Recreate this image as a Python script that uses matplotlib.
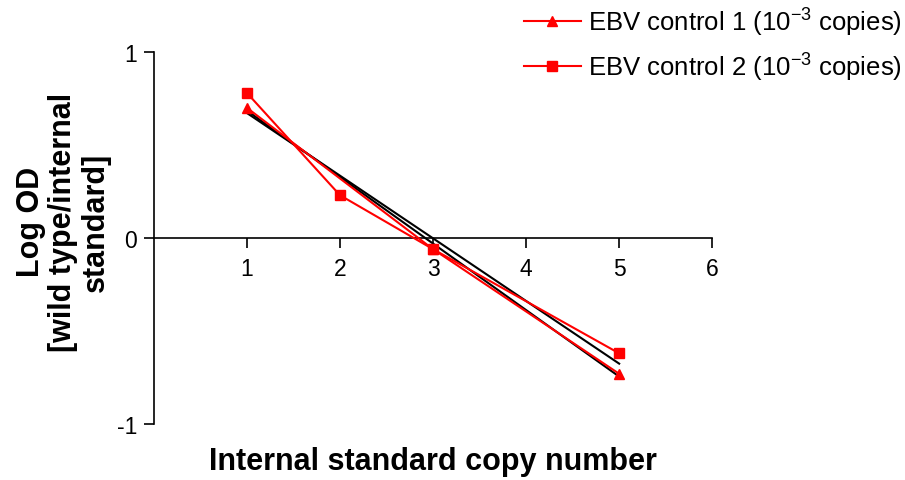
import numpy as np
import matplotlib
matplotlib.use('Agg')
from matplotlib import pyplot as plt

plt.rcParams['font.family'] = ['Liberation Sans', 'DejaVu Sans']
plt.rcParams['mathtext.fontset'] = 'custom'
plt.rcParams['mathtext.rm'] = 'Liberation Sans'
plt.rcParams['mathtext.it'] = 'Liberation Sans'
plt.rcParams['axes.unicode_minus'] = False

# 数据
x1 = [1, 3, 5]
y1 = [0.70, -0.06, -0.73]
x2 = [1, 2, 3, 5]
y2 = [0.78, 0.23, -0.06, -0.62]
labels = ['EBV control 1 (10$^{-3}$ copies)', 'EBV control 2 (10$^{-3}$ copies)']
xticks = [1, 2, 3, 4, 5, 6]
yticks = [-1, 0, 1]

fig = plt.figure(figsize=(9.05, 4.81), dpi=100)
ax = fig.add_axes([0.170, 0.1164, 0.617, 0.7734])

# 回归线 (黑色)
for xs, ys in [(x1, y1), (x2, y2)]:
    k, b = np.polyfit(xs, ys, 1)
    xx = np.array([1, 5])
    ax.plot(xx, k * xx + b, color='black', lw=1.5, zorder=2)

l1, = ax.plot(x1, y1, color='red', marker='^', ms=7, lw=1.5, zorder=3)
l2, = ax.plot(x2, y2, color='red', marker='s', ms=7, lw=1.5, zorder=3)

ax.set_xlim(0, 6)
ax.set_ylim(-1, 1)
ax.spines['top'].set_visible(False)
ax.spines['right'].set_visible(False)
ax.spines['bottom'].set_position(('data', 0))
ax.spines['left'].set_position(('data', 0))
ax.spines['bottom'].set_bounds(0, 6)
ax.spines['left'].set_linewidth(1.2)
ax.spines['bottom'].set_linewidth(1.2)
ax.set_xticks(xticks)
ax.set_yticks(yticks)
ax.tick_params(labelsize=16.5, length=7, width=1.2, direction='out')
ax.tick_params(axis='x', pad=7)
ax.tick_params(axis='y', pad=5)

ax.set_xlabel('Internal standard copy number', fontsize=22, fontweight='bold')
ax.xaxis.set_label_coords(0.5, -0.06)
fig.text(0.070, 0.538, 'Log OD\n[wild type/internal\nstandard]', rotation=90,
         fontsize=22, fontweight='bold', ha='center', va='center',
         multialignment='center', linespacing=1.1)

fig.legend([l1, l2], labels, loc='upper right', bbox_to_anchor=(1.011, 1.013),
           borderaxespad=0.1, fontsize=18.5, frameon=False, handlelength=2.2,
           labelspacing=0.5, handletextpad=0.3)

plt.savefig('out.png', dpi=100)
